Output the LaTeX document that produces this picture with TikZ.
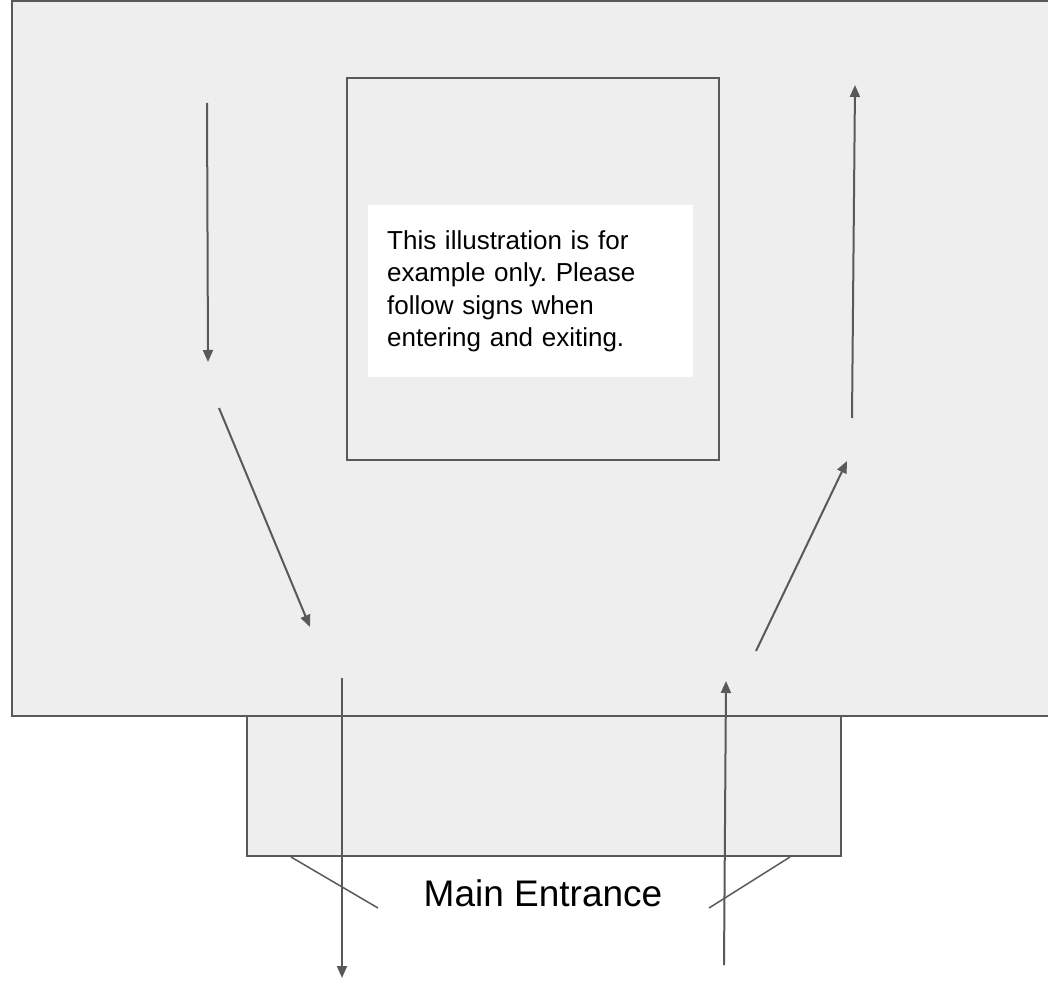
\documentclass[tikz,border=0pt]{standalone}
\usepackage{fontspec}
\setmainfont{Liberation Sans}
\usetikzlibrary{arrows.meta}
\frenchspacing

\definecolor{floorgray}{HTML}{EEEEEE}
\definecolor{wallgray}{HTML}{595959}

\begin{document}
\begin{tikzpicture}[x=1pt,y=-1pt,
  room/.style={draw=wallgray, line width=2pt, fill=floorgray},
  flow/.style={draw=wallgray, line width=2pt, -{Triangle[width=10pt,length=12pt]}},
  pointer/.style={draw=wallgray, line width=1.5pt}]

% Page frame
\useasboundingbox (0,0) rectangle (1048,981);
\clip (0,0) rectangle (1048,981);

% Store floor (runs off the right edge)
\draw[room] (12,1) rectangle (1070,716);

% Entrance hall
\draw[room] (247,716) rectangle (841,856);

% Centre block
\draw[room] (347,78) rectangle (719,460);

% Note inside the centre block
\node (note) [fill=white, anchor=north west, inner xsep=19pt, inner ysep=0pt,
  minimum width=325pt, minimum height=172pt, text width=287pt, align=left,
  font=\fontsize{26}{32.5}\selectfont] at (368,205)
  {This illustration is for\\example only. Please\\follow signs when\\entering and exiting.};

% Entrance label
\node (entrance) [font=\fontsize{37}{44}\selectfont] at (543,893) {Main Entrance};

% Way in (right side)
\coordinate (enterA) at (724,965);
\coordinate (enterB) at (726,681);
\coordinate (upA) at (756,651);
\coordinate (upB) at (847,461);
\coordinate (upC) at (852,418);
\coordinate (upD) at (855,85);

% Way out (left side)
\coordinate (downA) at (207,103);
\coordinate (downB) at (208,362);
\coordinate (downC) at (219,408);
\coordinate (downD) at (310,627);
\coordinate (exitA) at (342,678);
\coordinate (exitB) at (342,978);

\draw[flow] (enterA) -- (enterB);
\draw[flow] (upA) -- (upB);
\draw[flow] (upC) -- (upD);
\draw[flow] (downA) -- (downB);
\draw[flow] (downC) -- (downD);
\draw[flow] (exitA) -- (exitB);

% Pointers to the entrance
\coordinate (leftTick) at (291,857);
\coordinate (leftEnd) at (378,908);
\coordinate (rightTick) at (790,857);
\coordinate (rightEnd) at (709,908);
\draw[pointer] (leftTick) -- (leftEnd);
\draw[pointer] (rightTick) -- (rightEnd);

\end{tikzpicture}
\end{document}
